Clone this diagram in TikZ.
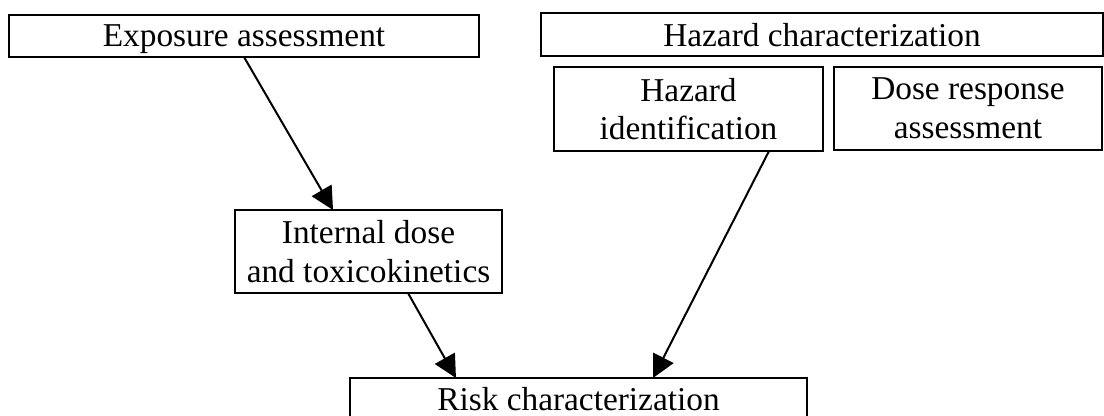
\documentclass[tikz,border=0pt]{standalone}
\usepackage{fontspec}
\setmainfont{Liberation Serif}
\usetikzlibrary{arrows.meta,calc}
\begin{document}
\begin{tikzpicture}[x=0.75pt,y=-0.75pt,
  box/.style={draw,line width=1.5pt,inner sep=0pt,outer sep=0pt,align=center,font=\fontsize{25}{29}\selectfont},
  onebox/.style={box,text depth=0pt},
  conn/.style={line width=1.5pt,-{Triangle[length=17pt,width=17pt]}}]
\useasboundingbox (0,0) rectangle (1104,416);
\node[onebox,minimum width=352.5pt,minimum height=31.5pt] (exp) at (244,36) {Exposure assessment};
\node[onebox,minimum width=421.5pt,minimum height=32.25pt] (hc) at (822,34.5) {Hazard characterization};
\node[box,minimum width=201.75pt,minimum height=63pt] (hid) at (688.5,109) {Hazard\\identification};
\node[box,minimum width=201pt,minimum height=62.25pt] (dose) at (968,108.5) {Dose response\\assessment};
\node[box,minimum width=200.25pt,minimum height=62.25pt] (int) at (368.5,251.5) {Internal dose\\and toxicokinetics};
\node[onebox,minimum width=342.75pt,minimum height=31.5pt] (risk) at (578.5,399) {Risk characterization};
\draw[conn] (exp.south) -- ([xshift=-26.6pt]int.north);
\draw[conn] ([xshift=29.6pt]int.south) -- ([xshift=-91.9pt]risk.north);
\draw[conn] ([xshift=60.4pt]hid.south) -- ([xshift=55.9pt]risk.north);
\end{tikzpicture}
\end{document}
